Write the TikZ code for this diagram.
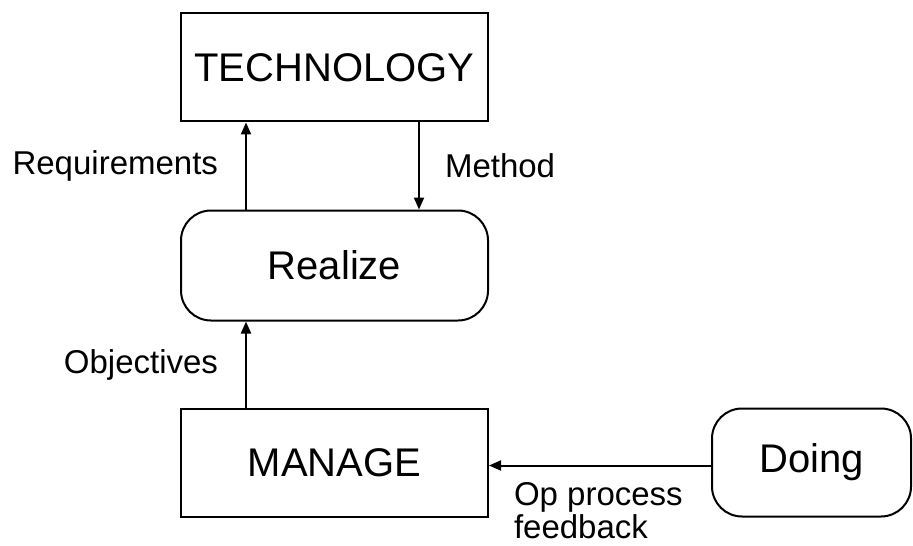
\documentclass[tikz,border=0pt]{standalone}
\usepackage{fontspec}
\setmainfont{Liberation Sans}
\usetikzlibrary{arrows.meta,positioning}

\begin{document}
\begin{tikzpicture}[
  x=0.5pt, y=-0.5pt,
  >={Triangle[length=6pt,width=5pt]},
  box/.style   ={draw,line width=1pt,minimum width=153.5pt,minimum height=54pt,inner sep=0pt,font=\fontsize{20}{24}\selectfont},
  rbox/.style  ={box,rounded corners=15pt},
  lbl/.style   ={font=\fontsize{16.5}{15}\selectfont,inner sep=0pt},
  arrow/.style ={->,line width=1pt}
]
\useasboundingbox (0,0) rectangle (913,545);

% boxes
\node[box] (tech) at (334.5,67.5) {TECHNOLOGY};
\node[rbox, minimum height=55pt, below=43.5pt of tech] (realize) {Realize};
\node[box, below=43pt of realize] (manage) {MANAGE};
\node[rbox, minimum width=99.5pt, right=111pt of manage] (doing) {Doing};

% connectors
\draw[arrow] ([xshift=33pt]realize.north west) -- node[lbl, left=13.5pt]{Requirements} ([xshift=33pt]tech.south west);
\draw[arrow] ([xshift=-35pt]tech.south east) -- node[lbl, right=12.5pt]{Method} ([xshift=-35pt]realize.north east);
\draw[arrow] ([xshift=33pt]manage.north west) -- node[lbl, left=13.5pt]{Objectives} ([xshift=33pt]realize.south west);
\draw[arrow] ([yshift=-1.5pt]doing.west) -- ([yshift=-1.5pt]manage.east)
  node[lbl, align=left, anchor=north west, xshift=12pt, yshift=-8pt]{Op process\\feedback};

\end{tikzpicture}
\end{document}
